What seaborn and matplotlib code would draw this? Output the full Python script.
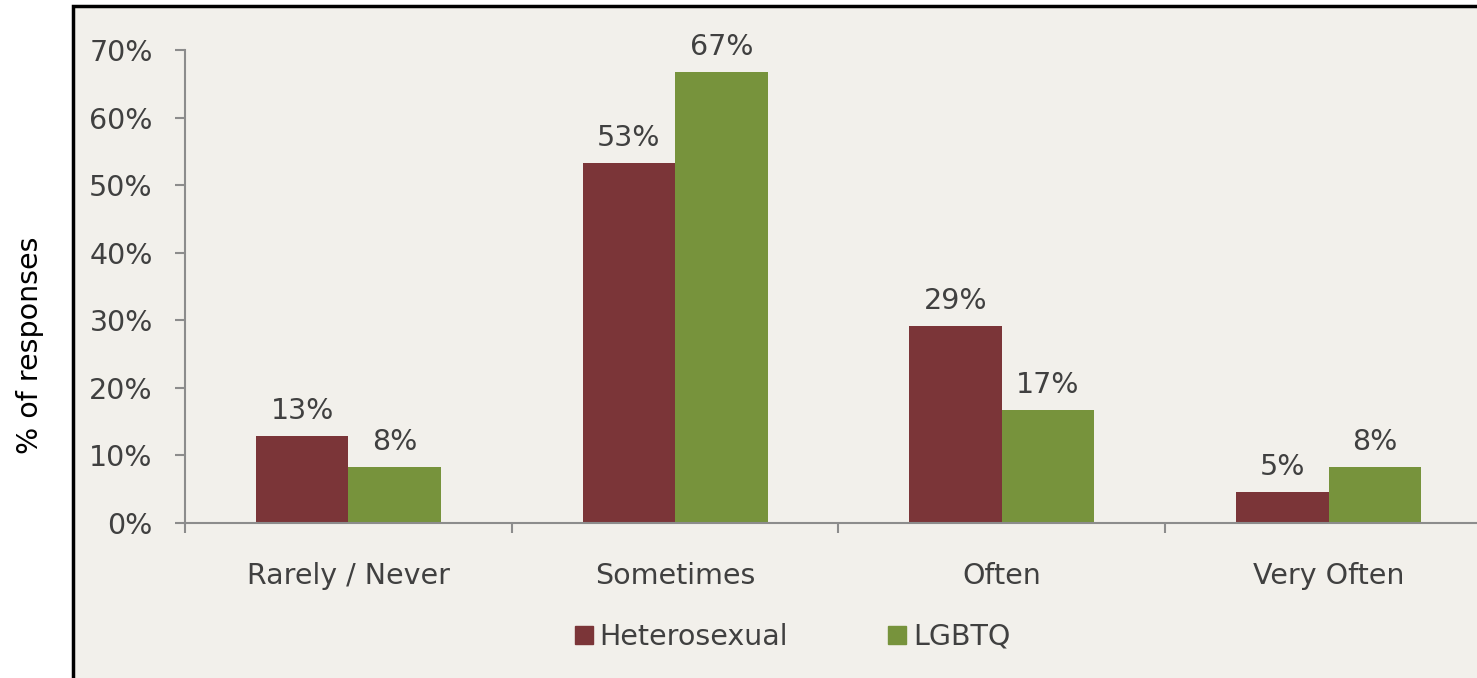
import pandas as pd
import matplotlib.pyplot as plt
import seaborn as sns
from matplotlib.patches import Rectangle
from matplotlib.lines import Line2D

# data
categories = ["Rarely / Never", "Sometimes", "Often", "Very Often"]
groups = ["Heterosexual", "LGBTQ"]
hetero = [12.9, 53.3, 29.2, 4.6]
lgbtq = [8.3, 66.7, 16.7, 8.3]
y_ticks = [0, 10, 20, 30, 40, 50, 60, 70]

colors = ["#7B3538", "#77933C"]
bg = "#F2F0EB"
text_col = "#404040"
axis_col = "#8C8C8C"

df = pd.DataFrame({
    "Category": categories * 2,
    "Group": [groups[0]] * 4 + [groups[1]] * 4,
    "Value": hetero + lgbtq,
})

sns.set_theme(style="white")
plt.rcParams["font.family"] = ["DejaVu Sans"]

fig = plt.figure(figsize=(14.77, 6.78), dpi=100)
fig.patch.set_facecolor("white")

# beige panel with black frame on left/top
fig.patches.append(Rectangle((72.5 / 1477, -0.1), 1.2, 1.1 - 6 / 678,
                             transform=fig.transFigure, facecolor=bg,
                             edgecolor="black", linewidth=2.5, zorder=-1))

ax = fig.add_axes([185 / 1477, 1 - 523 / 678, 1307 / 1477, 473 / 678])
ax.set_facecolor("none")
ax.set_zorder(1)

sns.barplot(data=df, x="Category", y="Value", hue="Group", palette=colors,
            width=0.566, saturation=1, edgecolor="none", linewidth=0,
            ax=ax, legend=False)

fs = 20.5
for cont, vals in zip(ax.containers, [hetero, lgbtq]):
    ax.bar_label(cont, labels=[f"{v:.0f}%" for v in vals], padding=8,
                 fontsize=fs, color=text_col)

ax.set_ylim(0, 70)
ax.set_xlim(-0.5, 3.5)
ax.set_yticks(y_ticks)
ax.set_yticklabels([f"{t}%" for t in y_ticks], fontsize=fs, color=text_col)
ax.tick_params(axis="y", length=7.2, width=1.5, color=axis_col, pad=16, left=True)

# ticks at category boundaries, labels at category centres
ax.set_xticks([-0.5, 0.5, 1.5, 2.5, 3.5])
ax.set_xticklabels([])
ax.set_xticks(range(4), minor=True)
ax.set_xticklabels(categories, minor=True, fontsize=fs, color=text_col)
ax.tick_params(axis="x", which="major", length=7.2, width=1.5, color=axis_col, bottom=True)
ax.tick_params(axis="x", which="minor", length=0, pad=28)
ax.set_xlabel("")
ax.set_ylabel("")

for s in ["top", "right"]:
    ax.spines[s].set_visible(False)
for s in ["left", "bottom"]:
    ax.spines[s].set_color(axis_col)
    ax.spines[s].set_linewidth(1.5)

fig.text(30 / 1477, 1 - 345 / 678, "% of responses", rotation=90,
         ha="center", va="center", fontsize=fs, color="black")

handles = [Line2D([0], [0], marker="s", linestyle="none", markersize=13,
                  markerfacecolor=c, markeredgecolor=c) for c in colors]
leg = fig.legend(handles, groups, loc="center", ncol=2,
                 bbox_to_anchor=(792 / 1477, 1 - 637 / 678), frameon=False,
                 fontsize=fs, handletextpad=0.2, columnspacing=3.5,
                 handlelength=0.7)
for t in leg.get_texts():
    t.set_color(text_col)

fig.savefig("out.png", dpi=100)
